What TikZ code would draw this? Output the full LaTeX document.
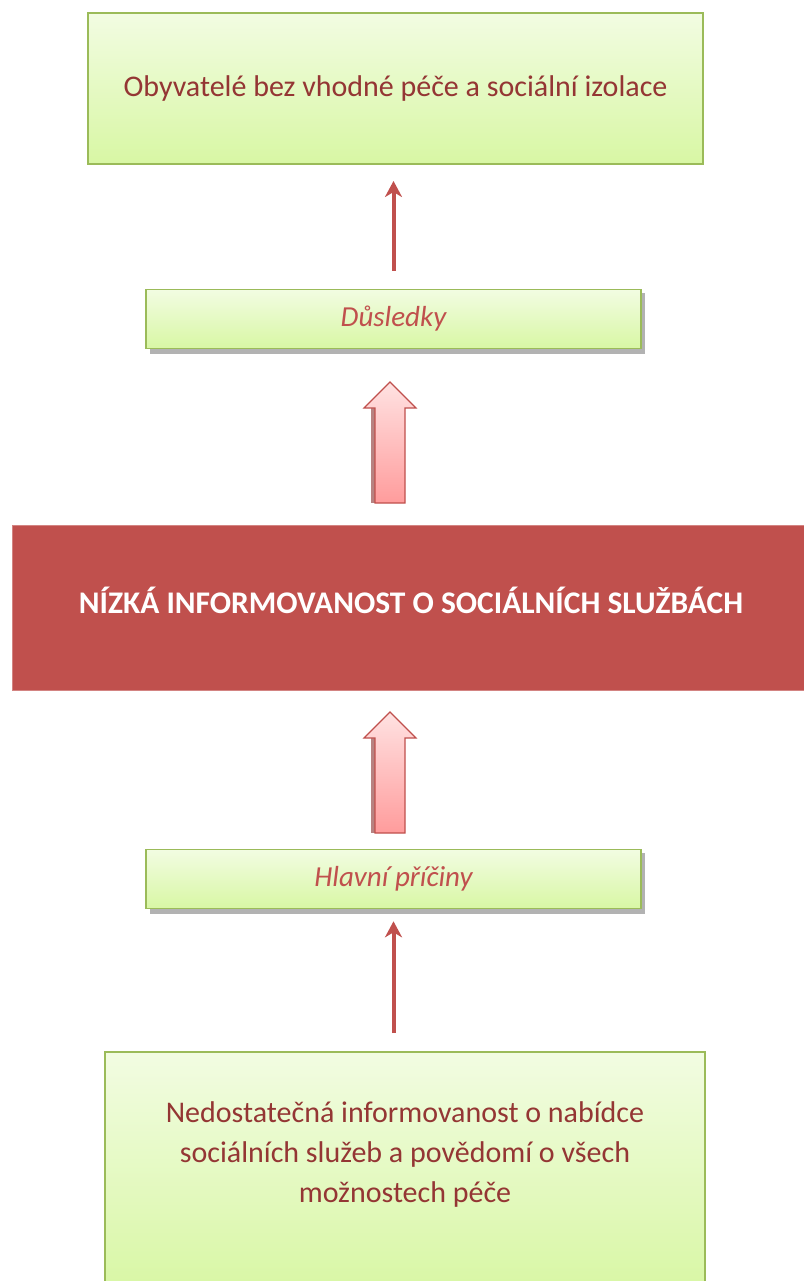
\documentclass[tikz,border=0pt]{standalone}
\usepackage{fontspec}
\setmainfont{Carlito}
\usetikzlibrary{arrows.meta}
\definecolor{gborder}{HTML}{9BBB59}
\definecolor{gtop}{HTML}{F2FCE2}
\definecolor{gbot}{HTML}{D8F7A4}
\definecolor{dred}{HTML}{943634}
\definecolor{mred}{HTML}{C0504D}
\definecolor{ptop}{HTML}{FFE2E2}
\definecolor{pbot}{HTML}{FF9C9C}
\tikzset{
  greenbox/.style={draw=gborder, line width=2pt, top color=gtop, bottom color=gbot,
    text=dred, align=center, inner sep=0pt},
  labelbox/.style={greenbox, line width=1.6pt, text=mred, font=\fontsize{29}{34}\selectfont\itshape},
  shadowbox/.style={fill=black!30},
  thinarrow/.style={draw=mred, line width=4pt, -{Stealth[length=16pt,width=17pt,inset=5pt]}},
  blockarrow/.style={draw=mred, line width=1.2pt, top color=ptop, bottom color=pbot},
  blockshadow/.style={fill=mred!60!gray, opacity=0.8}
}
\begin{document}
\begin{tikzpicture}[x=1pt,y=-1pt]
\useasboundingbox (0,0) rectangle (803,1281);
% shadows
\fill[shadowbox] (150,293) rectangle (645,354);
\fill[shadowbox] (150,853) rectangle (645,914);
% top box
\node[greenbox, minimum width=615pt, minimum height=151pt, font=\fontsize{30}{36}\selectfont] (top) at (395.5,88.5) {Obyvatelé bez vhodné péče a sociální izolace};
% Dusledky
\node[labelbox, minimum width=495pt, minimum height=59pt] (dus) at (393.5,319) {Důsledky};
\draw[thinarrow, shorten <=18pt, shorten >=16pt] (dus.north) -- (dus.north |- top.south);
% red box
\node[fill=mred, draw=mred!70!white, line width=1pt, minimum width=800pt, minimum height=165pt] (main) at (412,607.5) {};
\node[text=white, font=\fontsize{31.5}{36}\selectfont\bfseries, inner sep=0pt] (maintxt) at (411,600) {NÍZKÁ INFORMOVANOST O SOCIÁLNÍCH SLUŽBÁCH};
% block arrow 1
\coordinate (ba1) at (390,503);
\fill[blockshadow] ([xshift=-4pt]ba1) ++(-15,0) rectangle ++(5,-95);
\draw[blockarrow] (ba1) ++(-15,0) -- ++(0,-95) -- ++(-11,0) -- ++(26,-26) -- ++(26,26) -- ++(-11,0) -- ++(0,95) -- cycle;
% block arrow 2
\coordinate (ba2) at (390,833);
\fill[blockshadow] ([xshift=-4pt]ba2) ++(-15,0) rectangle ++(5,-95);
\draw[blockarrow] (ba2) ++(-15,0) -- ++(0,-95) -- ++(-11,0) -- ++(26,-26) -- ++(26,26) -- ++(-11,0) -- ++(0,95) -- cycle;
% Hlavni priciny
\node[labelbox, minimum width=495pt, minimum height=59pt] (hp) at (393.5,879) {Hlavní příčiny};
% bottom box
\node[greenbox, minimum width=600pt, minimum height=240pt] (bot) at (405,1172) {};
\node[text=dred, align=center, font=\fontsize{30}{40}\selectfont, anchor=north, inner sep=0pt] (bottxt) at (405,1101) {Nedostatečná informovanost o nabídce\\sociálních služeb a povědomí o všech\\možnostech péče};
\draw[thinarrow, shorten <=18pt, shorten >=12pt] (bot.north -| hp.south) -- (hp.south);
\end{tikzpicture}
\end{document}
